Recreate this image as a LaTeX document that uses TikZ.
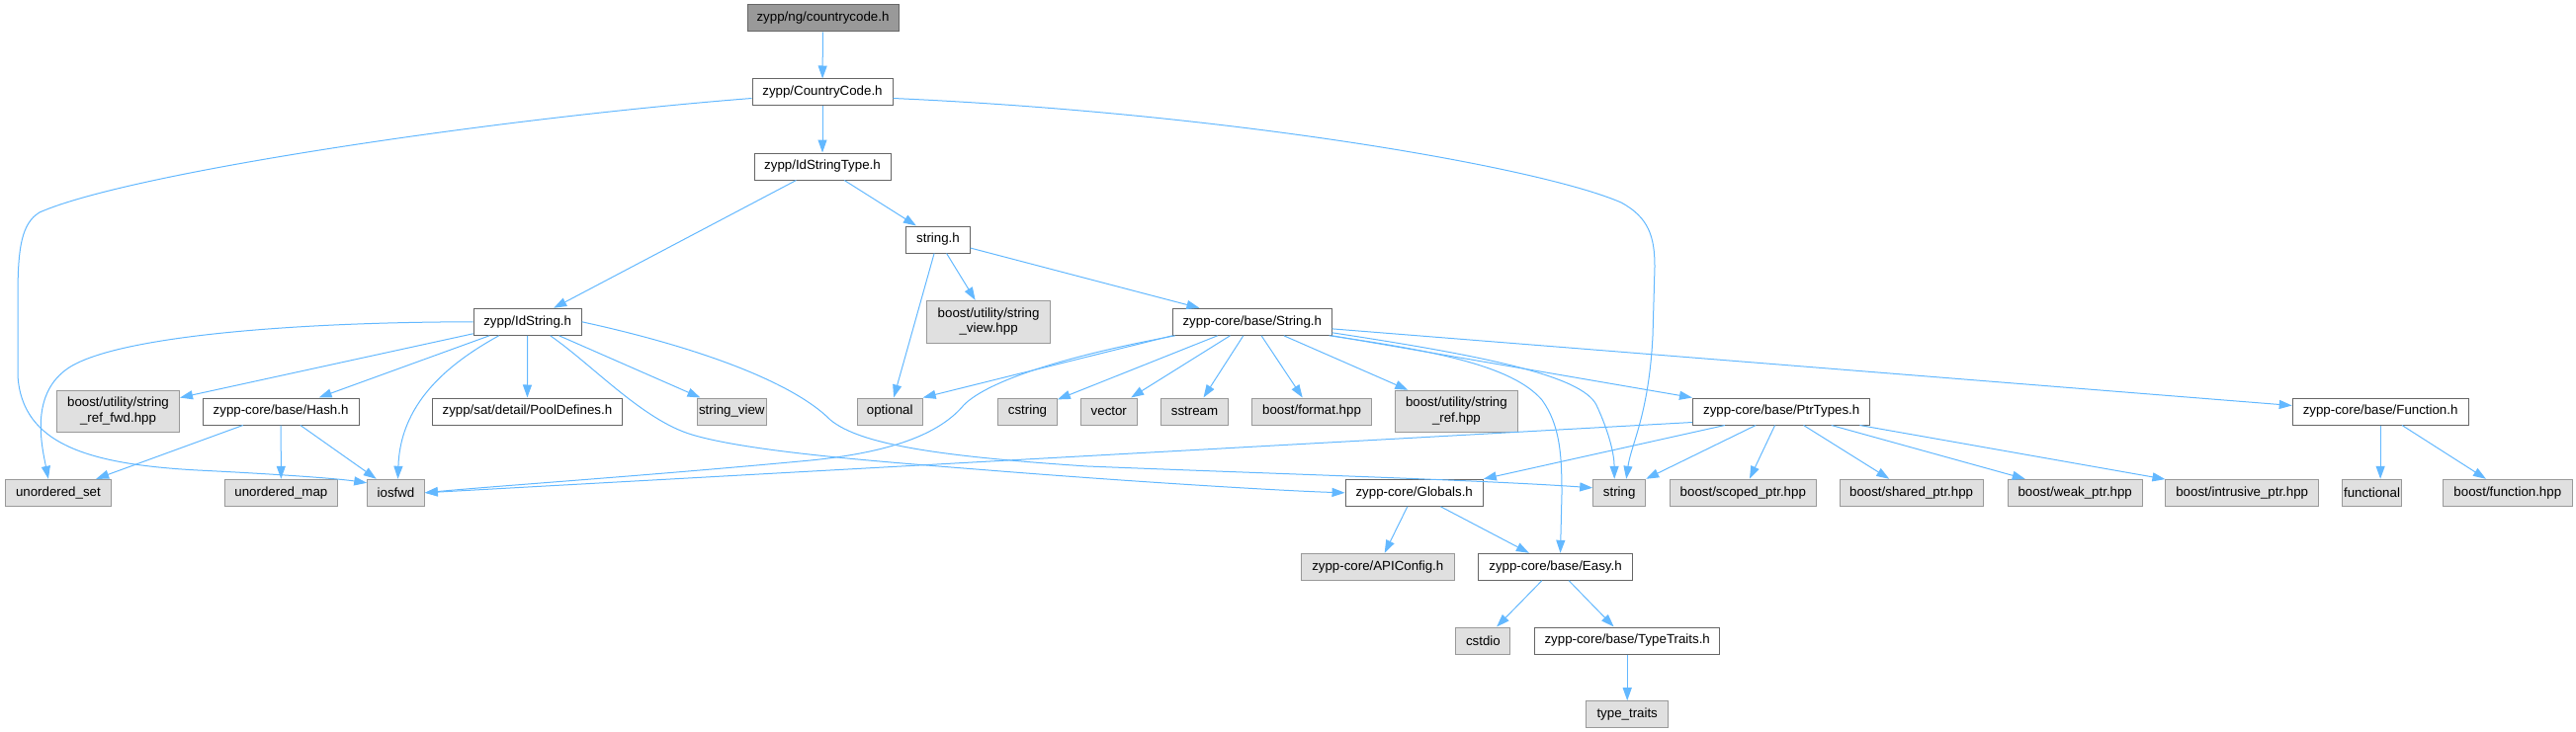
\documentclass[tikz,border=0pt]{standalone}
\usepackage{fontspec}
\setmainfont{Liberation Sans}
\usetikzlibrary{arrows.meta,calc}
\definecolor{edgec}{HTML}{63B8FF}
\definecolor{gfill}{HTML}{E0E0E0}
\definecolor{gline}{HTML}{999999}
\definecolor{wline}{HTML}{666666}
\definecolor{topfill}{HTML}{999999}
\begin{document}
\begin{tikzpicture}[x=1pt,y=-1pt,
  base/.style={rectangle, inner sep=0pt, minimum height=27pt, line width=1pt, font=\fontsize{13.3}{15.5}\selectfont, align=center},
  wbox/.style={base, draw=wline, fill=white},
  gbox/.style={base, draw=gline, fill=gfill},
  tbox/.style={base, draw=wline, fill=topfill},
  dep/.style={draw=edgec, line width=1pt, -{Triangle[length=13pt,width=9pt]}},
]
\useasboundingbox (0,0) rectangle (2606,741);
% nodes
\node[tbox, minimum width=153pt] (cc) at (832.5,18.5) {zypp/ng/countrycode.h};
\node[wbox, minimum width=142pt] (CC) at (832,93.5) {zypp/CountryCode.h};
\node[wbox, minimum width=138pt] (IST) at (832,168.5) {zypp/IdStringType.h};
\node[wbox, minimum width=64.5pt] (strh) at (949,242.5) {string.h};
\node[wbox, minimum width=109pt] (IS) at (533.7,325.8) {zypp/IdString.h};
\node[gbox, minimum width=124.5pt, minimum height=43pt] (bsv) at (1000.1,325.8) {boost/utility/string\\\_view.hpp};
\node[wbox, minimum width=160.7pt] (SH) at (1266.8,325.8) {zypp-core/base/String.h};
\node[gbox, minimum width=124pt, minimum height=42pt] (srf) at (119.5,416.2) {boost/utility/string\\\_ref\_fwd.hpp};
\node[wbox, minimum width=158pt] (Hash) at (284.1,416.5) {zypp-core/base/Hash.h};
\node[wbox, minimum width=192.4pt] (Pool) at (533.4,416.5) {zypp/sat/detail/PoolDefines.h};
\node[gbox, minimum width=70.6pt] (sv) at (740.3,416.5) {string\_view};
\node[gbox, minimum width=66pt] (opt) at (900.2,416.5) {optional};
\node[gbox, minimum width=59.7pt] (cstr) at (1039.5,416.5) {cstring};
\node[gbox, minimum width=56.8pt] (vec) at (1121.8,416.5) {vector};
\node[gbox, minimum width=68.4pt] (sst) at (1208.5,416.5) {sstream};
\node[gbox, minimum width=120.5pt] (bfmt) at (1327,416.5) {boost/format.hpp};
\node[gbox, minimum width=124pt, minimum height=42pt] (bsr) at (1473.4,416.3) {boost/utility/string\\\_ref.hpp};
\node[wbox, minimum width=179.5pt] (PT) at (1802.2,416.5) {zypp-core/base/PtrTypes.h};
\node[wbox, minimum width=177.8pt] (FN) at (2408.1,416.5) {zypp-core/base/Function.h};
\node[gbox, minimum width=106.8pt] (us) at (58.9,498.8) {unordered\_set};
\node[gbox, minimum width=114.3pt] (um) at (284.4,498.8) {unordered\_map};
\node[gbox, minimum width=57.6pt] (io) at (400.5,498.8) {iosfwd};
\node[wbox, minimum width=139.3pt] (GL) at (1430.7,498.8) {zypp-core/Globals.h};
\node[gbox, minimum width=53pt] (str) at (1638.2,498.8) {string};
\node[gbox, minimum width=148.2pt] (bscp) at (1763.3,498.8) {boost/scoped\_ptr.hpp};
\node[gbox, minimum width=145pt] (bshp) at (1933.6,498.8) {boost/shared\_ptr.hpp};
\node[gbox, minimum width=136pt] (bwp) at (2099.2,498.8) {boost/weak\_ptr.hpp};
\node[gbox, minimum width=154.6pt] (bip) at (2268.2,498.8) {boost/intrusive\_ptr.hpp};
\node[gbox, minimum width=60.3pt] (fnl) at (2399.5,498.8) {functional};
\node[gbox, minimum width=130.9pt] (bfn) at (2536.8,498.8) {boost/function.hpp};
\node[gbox, minimum width=154.4pt] (API) at (1393.8,573.8) {zypp-core/APIConfig.h};
\node[wbox, minimum width=155.6pt] (EZ) at (1573.5,573.8) {zypp-core/base/Easy.h};
\node[gbox, minimum width=55.1pt] (cstdio) at (1500.4,648.5) {cstdio};
\node[wbox, minimum width=187.1pt] (TT) at (1646.2,648.5) {zypp-core/base/TypeTraits.h};
\node[gbox, minimum width=82.7pt] (tt) at (1646.2,723.2) {type\_traits};
% edges
\draw[dep] (cc) -- (CC);
\draw[dep] (CC) -- (IST);
\draw[dep] ($(CC.west)+(0,6)$) .. controls (500,120) and (130,175) .. (40,215) .. controls (22,226) and (18,250) .. (18,300) -- (18,380) .. controls (22,450) and (90,470) .. (200,476) .. controls (300,481) and (345,485) .. ($(io.north west)+(0,4)$);
\draw[dep] ($(CC.east)+(0,6)$) .. controls (1250,115) and (1560,170) .. (1640,205) .. controls (1668,220) and (1674,240) .. (1674,270) -- (1672,340) .. controls (1668,420) and (1650,450) .. ($(str.north)+(7,0)$);
\draw[dep] (IST) -- (IS);
\draw[dep] (IST) -- (strh);
\draw[dep] (strh) -- (opt);
\draw[dep] (strh) -- (bsv);
\draw[dep] (strh) -- (SH);
\draw[dep] (IS.west) .. controls (300,326) and (120,340) .. (70,372) .. controls (30,398) and (42,450) .. ($(us.north)+(-10,0)$);
\draw[dep] (IS) -- (srf);
\draw[dep] (IS) -- (Hash);
\draw[dep] ($(IS.south)+(-29,0)$) .. controls (450,370) and (405,410) .. ($(io.north)+(2,0)$);
\draw[dep] (IS) -- (Pool);
\draw[dep] (IS) -- (sv);
\draw[dep] ($(IS.south)+(23,0)$) .. controls (600,370) and (650,425) .. (700,440) .. controls (760,458) and (900,468) .. (1000,476) .. controls (1150,488) and (1300,497) .. (GL.west);
\draw[dep] (IS.east) .. controls (700,350) and (800,385) .. (840,425) .. controls (870,450) and (950,462) .. (1100,472) .. controls (1300,480) and (1500,486) .. ($(str.west)+(0,-5)$);
\draw[dep] (Hash) -- (us);
\draw[dep] (Hash) -- (um);
\draw[dep] (Hash) -- (io);
\draw[dep] (SH.south west) -- (opt.north east);
\draw[dep] ($(SH.south west)+(3,0)$) .. controls (1080,360) and (1000,385) .. (975,410) .. controls (950,440) and (900,458) .. (820,466) .. controls (650,482) and (500,492) .. (io.east);
\draw[dep] (SH) -- (cstr);
\draw[dep] (SH) -- (vec);
\draw[dep] (SH) -- (sst);
\draw[dep] (SH) -- (bfmt);
\draw[dep] (SH) -- (bsr);
\draw[dep] (SH.south east) -- (PT.north west);
\draw[dep] (SH.-5) -- ($(FN.west)+(0,-6)$);
\draw[dep] ($(SH.south east)+(0,-3)$) .. controls (1500,360) and (1600,380) .. (1615,410) .. controls (1628,438) and (1633,460) .. ($(str.north)+(-5,0)$);
\draw[dep] ($(SH.south east)+(-3,0)$) .. controls (1450,355) and (1530,370) .. (1560,405) .. controls (1578,430) and (1580,460) .. (1580,500) -- ($(EZ.north)+(5,0)$);
\draw[dep] ($(PT.south west)+(0,-3)$) -- (io.east);
\draw[dep] ($(PT.south west)+(33,0)$) -- (GL.north east);
\draw[dep] ($(PT.south)+(-26,0)$) -- (str.north east);
\draw[dep] (PT) -- (bscp);
\draw[dep] (PT) -- (bshp);
\draw[dep] (PT) -- (bwp);
\draw[dep] (PT) -- (bip);
\draw[dep] (FN.south) -- (FN.south |- fnl.north);
\draw[dep] (FN) -- (bfn);
\draw[dep] (GL) -- (API);
\draw[dep] (GL) -- (EZ);
\draw[dep] (EZ) -- (cstdio);
\draw[dep] (EZ) -- (TT);
\draw[dep] (TT) -- (tt);
\end{tikzpicture}
\end{document}
